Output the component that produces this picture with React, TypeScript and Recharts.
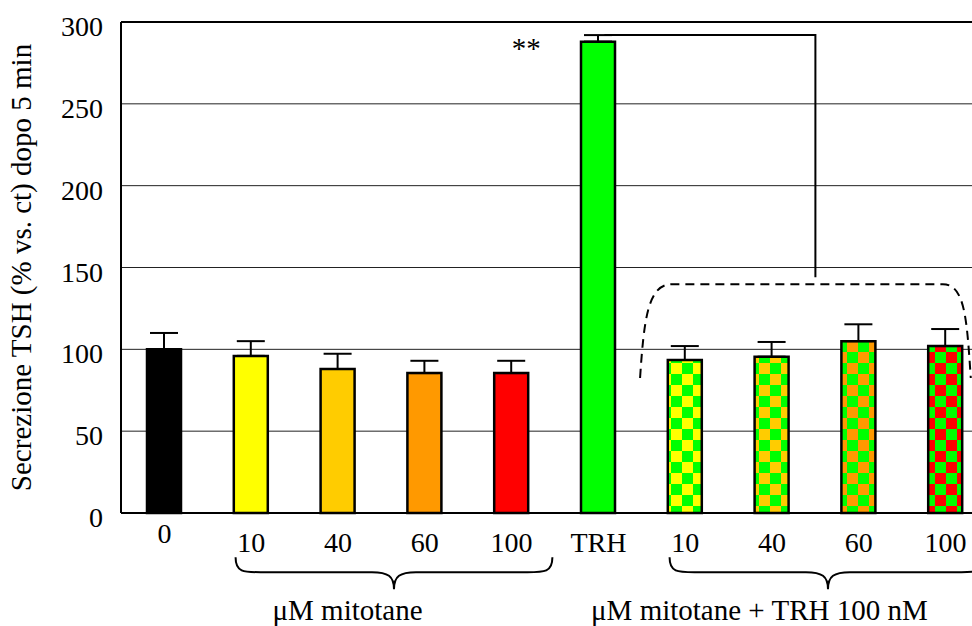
import React from 'react'
import {
  Bar,
  BarChart,
  CartesianGrid,
  Cell,
  ErrorBar,
  ReferenceLine,
  XAxis,
  YAxis,
} from 'recharts'

const labels = ['0', '10', '40', '60', '100', 'TRH', '10', '40', '60', '100']
const means = [100, 96, 88, 85.5, 85.5, 288, 93.5, 95.5, 105, 102]
const errors = [10, 9, 9.3, 7.5, 7.5, 4, 8.5, 9, 10.3, 10.4]
const fills = [
  '#000000',
  '#FFFF00',
  '#FFCC00',
  '#FF9900',
  '#FF0000',
  '#00FF00',
  'url(#chk-yellow)',
  'url(#chk-gold)',
  'url(#chk-orange)',
  'url(#chk-red)',
]
const yTicks = [0, 50, 100, 150, 200, 250, 300]

const checkers = [
  { id: 'chk-yellow', color: '#FFFF00' },
  { id: 'chk-gold', color: '#FFCC00' },
  { id: 'chk-orange', color: '#FF9900' },
  { id: 'chk-red', color: '#FF0000' },
]

const data = labels.map((label, i) => ({
  key: `c${i}`,
  label,
  value: means[i],
  err: [0, errors[i]],
}))

const FONT = '"Liberation Serif", "Times New Roman", serif'

function XTick({ x, y, index }: any) {
  return (
    <text x={x} y={y} dy={index === 0 ? 30 : 39} textAnchor='middle' fontFamily={FONT} fontSize={28} fill='#000'>
      {labels[index]}
    </text>
  )
}

function YTick({ x, y, payload }: any) {
  return (
    <text x={x - 18} y={y} dy={14} textAnchor='end' fontFamily={FONT} fontSize={28} fill='#000'>
      {payload.value}
    </text>
  )
}

// segment runs TRH -> 3rd bar after it; the drop sits between the 2nd and 3rd
function SigBracket({ x1, y1, x2, y2 }: any) {
  const band = (x2 - x1) / 3
  const xm = x2 - band / 2
  return <path d={`M${x1 + 6},${y1} H${xm} V${y2}`} fill='none' stroke='#000' strokeWidth={2} />
}

// dashed rounded cap over the mitotane + TRH bars (segment: first to last bar)
function DashedCap({ x1, y1, x2, y2 }: any) {
  const band = (x2 - x1) / 3
  const l = x1 - 0.52 * band
  const r = x2 + 0.29 * band
  const d = `M${l},${y1} C${l + 4},${y1 - 60} ${l + 8},${y2} ${l + 32},${y2} L${r - 28},${y2} C${r - 6},${y2} ${r - 4},${y1 - 60} ${r},${y1}`
  return <path d={d} fill='none' stroke='#000' strokeWidth={2} strokeDasharray='9 6' />
}

// curly brace pointing down under a group of four bars
function Brace({ x1, y1, x2 }: any) {
  const band = (x2 - x1) / 3
  const l = x1 - 0.18 * band
  const r = x2 + 0.47 * band
  const mid = (l + r) / 2
  const h = 15
  const tip = 32
  const d = `M${l},${y1} C${l},${y1 + h} ${l + 8},${y1 + h} ${l + 25},${y1 + h} L${mid - 22},${y1 + h} C${mid - 6},${y1 + h} ${mid},${y1 + h + 4} ${mid},${y1 + tip} C${mid},${y1 + h + 4} ${mid + 6},${y1 + h} ${mid + 22},${y1 + h} L${r - 25},${y1 + h} C${r - 8},${y1 + h} ${r},${y1 + h} ${r},${y1}`
  return <path d={d} fill='none' stroke='#000' strokeWidth={2} />
}

// text placed at a fraction of the way along a segment
function textShape(text: string, frac: number) {
  return ({ x1, y1, x2 }: any) => (
    <text x={x1 + frac * (x2 - x1)} y={y1} textAnchor='middle' fontFamily={FONT} fontSize={29} fill='#000'>
      {text}
    </text>
  )
}

export default function App() {
  return (
    <div style={{ position: 'absolute', left: 0, top: 0, width: 972, height: 626, overflow: 'hidden', background: '#fff' }}>
      <BarChart width={1000} height={626} data={data} margin={{ top: 22, right: 11, left: 0, bottom: 0 }}>
        <defs>
          {checkers.map(c => (
            <pattern key={c.id} id={c.id} patternUnits='userSpaceOnUse' width={22} height={22} x={0} y={0}>
              <rect width={22} height={22} fill='#00FF00' />
              <rect width={11} height={11} fill={c.color} />
              <rect x={11} y={11} width={11} height={11} fill={c.color} />
            </pattern>
          ))}
        </defs>
        <CartesianGrid vertical={false} stroke='#222' strokeWidth={1} />
        <XAxis
          dataKey='key'
          height={113}
          tickLine={false}
          tickSize={0}
          tickMargin={0}
          axisLine={{ stroke: '#000', strokeWidth: 2 }}
          tick={<XTick />}
          interval={0}
        />
        <YAxis
          width={121}
          domain={[0, 300]}
          ticks={yTicks}
          tickLine={false}
          tickSize={0}
          tickMargin={0}
          axisLine={{ stroke: '#000', strokeWidth: 2 }}
          tick={<YTick />}
          interval={0}
          label={{
            value: 'Secrezione TSH (% vs. ct) dopo 5 min',
            angle: -90,
            position: 'insideLeft',
            dx: 16,
            style: { fontFamily: FONT, fontSize: 29, fill: '#000', textAnchor: 'middle' },
          }}
        />
        <ReferenceLine y={300} stroke='#000' strokeWidth={2} />
        <Bar dataKey='value' barSize={34} stroke='#000' strokeWidth={2.5} isAnimationActive={false}>
          {data.map((d, i) => (
            <Cell key={d.key} fill={fills[i]} />
          ))}
          <ErrorBar dataKey='err' width={14} stroke='#000' strokeWidth={2} />
        </Bar>
        <ReferenceLine
          segment={[{ x: 'c5', y: 292 }, { x: 'c8', y: 144 }]}
          ifOverflow='visible'
          shape={<SigBracket />}
        />
        <ReferenceLine
          segment={[{ x: 'c6', y: 82.5 }, { x: 'c9', y: 139.8 }]}
          ifOverflow='visible'
          shape={<DashedCap />}
        />
        <ReferenceLine
          segment={[{ x: 'c1', y: -27 }, { x: 'c4', y: -27 }]}
          ifOverflow='visible'
          shape={<Brace />}
        />
        <ReferenceLine
          segment={[{ x: 'c6', y: -27 }, { x: 'c9', y: -27 }]}
          ifOverflow='visible'
          shape={<Brace />}
        />
        <ReferenceLine
          segment={[{ x: 'c4', y: 278 }, { x: 'c5', y: 278 }]}
          ifOverflow='visible'
          shape={textShape('**', 0.17)}
        />
        <ReferenceLine
          segment={[{ x: 'c1', y: -65.5 }, { x: 'c4', y: -65.5 }]}
          ifOverflow='visible'
          shape={textShape('μM mitotane', 0.37)}
        />
        <ReferenceLine
          segment={[{ x: 'c6', y: -65.5 }, { x: 'c9', y: -65.5 }]}
          ifOverflow='visible'
          shape={textShape('μM mitotane + TRH 100 nM', 0.285)}
        />
      </BarChart>
    </div>
  )
}
